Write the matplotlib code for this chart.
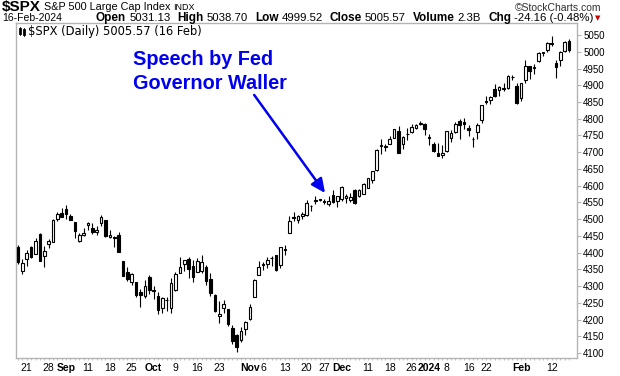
import matplotlib
matplotlib.use("Agg")
import matplotlib.pyplot as plt
from matplotlib.lines import Line2D
import numpy as np

ANCHO, ALTO = 620, 376

# Sesiones diarias del $SPX (17-ago-2023 .. 16-feb-2024)
fechas = [
    "2023-08-17", "2023-08-18", "2023-08-21", "2023-08-22", "2023-08-23", "2023-08-24", "2023-08-25",
    "2023-08-28", "2023-08-29", "2023-08-30", "2023-08-31",
    "2023-09-01", "2023-09-05", "2023-09-06", "2023-09-07", "2023-09-08", "2023-09-11", "2023-09-12",
    "2023-09-13", "2023-09-14", "2023-09-15", "2023-09-18", "2023-09-19", "2023-09-20", "2023-09-21",
    "2023-09-22", "2023-09-25", "2023-09-26", "2023-09-27", "2023-09-28", "2023-09-29",
    "2023-10-02", "2023-10-03", "2023-10-04", "2023-10-05", "2023-10-06", "2023-10-09", "2023-10-10",
    "2023-10-11", "2023-10-12", "2023-10-13", "2023-10-16", "2023-10-17", "2023-10-18", "2023-10-19",
    "2023-10-20", "2023-10-23", "2023-10-24", "2023-10-25", "2023-10-26", "2023-10-27", "2023-10-30",
    "2023-10-31",
    "2023-11-01", "2023-11-02", "2023-11-03", "2023-11-06", "2023-11-07", "2023-11-08", "2023-11-09",
    "2023-11-10", "2023-11-13", "2023-11-14", "2023-11-15", "2023-11-16", "2023-11-17", "2023-11-20",
    "2023-11-21", "2023-11-22", "2023-11-24", "2023-11-27", "2023-11-28", "2023-11-29", "2023-11-30",
    "2023-12-01", "2023-12-04", "2023-12-05", "2023-12-06", "2023-12-07", "2023-12-08", "2023-12-11",
    "2023-12-12", "2023-12-13", "2023-12-14", "2023-12-15", "2023-12-18", "2023-12-19", "2023-12-20",
    "2023-12-21", "2023-12-22", "2023-12-26", "2023-12-27", "2023-12-28", "2023-12-29",
    "2024-01-02", "2024-01-03", "2024-01-04", "2024-01-05", "2024-01-08", "2024-01-09", "2024-01-10",
    "2024-01-11", "2024-01-12", "2024-01-16", "2024-01-17", "2024-01-18", "2024-01-19", "2024-01-22",
    "2024-01-23", "2024-01-24", "2024-01-25", "2024-01-26", "2024-01-29", "2024-01-30", "2024-01-31",
    "2024-02-01", "2024-02-02", "2024-02-05", "2024-02-06", "2024-02-07", "2024-02-08", "2024-02-09",
    "2024-02-12", "2024-02-13", "2024-02-14", "2024-02-15", "2024-02-16",
]

aperturas = [
    4416.32, 4344.88, 4380.28, 4415.33, 4396.44, 4455.16, 4389.38, 4426.03, 4432.75, 4500.34, 4517.01,
    4530.60, 4510.06, 4490.35, 4434.55, 4451.30, 4480.98, 4473.27, 4462.65, 4487.78, 4497.98,
    4445.13, 4445.41, 4452.81, 4374.36, 4341.74, 4310.62, 4312.88, 4282.63, 4269.65, 4328.18,
    4284.52, 4269.75, 4233.83, 4259.31, 4234.79, 4289.02, 4339.75, 4366.59, 4380.94, 4360.49,
    4342.37, 4345.23, 4357.35, 4321.36, 4273.85, 4210.40, 4235.79, 4232.42, 4175.99, 4152.93,
    4139.39, 4171.33,
    4201.27, 4268.26, 4334.23, 4364.27, 4366.21, 4384.37, 4391.41, 4364.15, 4406.66, 4458.97,
    4505.30, 4497.08, 4509.55, 4511.70, 4538.77, 4553.04, 4555.84, 4554.86, 4545.55, 4571.84, 4554.87,
    4559.43, 4564.37, 4557.25, 4586.23, 4568.84, 4576.20, 4593.39, 4618.30, 4646.20, 4721.04,
    4714.23, 4725.58, 4743.72, 4764.73, 4724.29, 4753.92, 4758.86, 4773.45, 4786.44, 4782.88,
    4745.20, 4725.07, 4697.42, 4690.57, 4703.70, 4741.93, 4759.94, 4792.13, 4791.18, 4772.35,
    4739.13, 4760.10, 4796.28, 4853.42, 4856.80, 4888.56, 4886.66, 4888.91, 4892.95, 4925.89, 4899.19,
    4861.11, 4916.06, 4957.19, 4950.16, 4973.05, 4995.16, 5004.17, 5026.83, 4967.94, 4976.44,
    5003.14, 5031.13,
]

maximos = [
    4421.17, 4381.82, 4407.55, 4418.59, 4443.18, 4458.30, 4418.46, 4439.56, 4500.14, 4521.65, 4532.26,
    4541.25, 4514.29, 4490.35, 4457.81, 4473.53, 4490.77, 4487.11, 4479.39, 4511.99, 4497.98,
    4466.36, 4449.85, 4461.03, 4375.70, 4357.40, 4338.51, 4313.01, 4292.07, 4317.27, 4333.15,
    4300.58, 4281.15, 4268.50, 4267.13, 4324.10, 4341.73, 4385.46, 4378.64, 4385.85, 4377.10,
    4383.33, 4393.57, 4364.20, 4339.54, 4276.56, 4255.84, 4259.38, 4232.42, 4183.60, 4156.70,
    4177.47, 4195.55,
    4245.64, 4319.72, 4373.62, 4372.21, 4386.26, 4391.20, 4393.40, 4418.03, 4421.76, 4508.67,
    4521.17, 4511.99, 4520.12, 4557.11, 4542.14, 4568.43, 4560.31, 4560.52, 4568.14, 4587.64, 4569.89,
    4599.39, 4574.06, 4578.56, 4590.74, 4590.92, 4609.23, 4623.18, 4643.93, 4709.69, 4738.57,
    4725.53, 4749.52, 4768.69, 4778.01, 4748.71, 4772.94, 4784.72, 4785.39, 4793.30, 4788.43,
    4754.33, 4729.29, 4726.78, 4721.49, 4764.54, 4765.47, 4790.80, 4798.50, 4802.40, 4782.34,
    4744.23, 4785.79, 4842.07, 4868.41, 4866.48, 4903.68, 4898.15, 4906.69, 4929.31, 4931.09, 4906.75,
    4906.97, 4975.29, 4957.19, 4963.13, 4999.89, 5000.40, 5030.06, 5048.39, 4975.67, 5002.52,
    5032.72, 5038.70,
]

minimos = [
    4364.83, 4335.31, 4360.30, 4382.77, 4396.44, 4375.55, 4356.29, 4414.98, 4431.68, 4493.59, 4507.39,
    4501.35, 4496.01, 4442.38, 4430.46, 4448.38, 4467.89, 4456.83, 4453.52, 4478.69, 4447.21,
    4442.11, 4416.61, 4401.38, 4329.17, 4316.49, 4302.70, 4265.98, 4238.63, 4264.38, 4274.86,
    4260.21, 4216.45, 4220.48, 4225.91, 4219.55, 4283.79, 4339.64, 4345.34, 4325.43, 4311.97,
    4342.37, 4337.54, 4303.84, 4269.69, 4223.03, 4189.22, 4219.43, 4181.42, 4127.90, 4103.78,
    4132.94, 4153.12,
    4197.74, 4268.26, 4334.23, 4347.53, 4355.41, 4359.76, 4343.94, 4353.34, 4393.82, 4458.97,
    4495.31, 4487.83, 4499.66, 4510.36, 4525.51, 4545.05, 4552.80, 4546.32, 4540.51, 4547.15, 4537.24,
    4554.71, 4546.72, 4551.68, 4546.50, 4565.22, 4574.06, 4593.39, 4608.09, 4643.23, 4694.34,
    4704.69, 4725.58, 4743.72, 4697.82, 4708.35, 4736.77, 4758.45, 4768.90, 4780.98, 4751.99,
    4722.67, 4699.71, 4687.53, 4682.11, 4699.82, 4730.35, 4756.20, 4739.58, 4768.98, 4747.12,
    4714.82, 4740.57, 4785.87, 4844.05, 4844.37, 4865.94, 4869.34, 4881.47, 4887.40, 4916.27, 4845.15,
    4853.52, 4907.99, 4918.09, 4934.63, 4969.05, 4987.09, 5000.34, 5016.83, 4920.31, 4956.45,
    4999.44, 4999.52,
]

cierres = [
    4370.36, 4369.71, 4399.77, 4387.55, 4436.01, 4376.31, 4405.71, 4433.31, 4497.63, 4514.87, 4507.66,
    4515.77, 4496.83, 4465.48, 4451.14, 4457.49, 4487.46, 4461.90, 4467.44, 4505.10, 4450.32,
    4453.53, 4443.95, 4402.20, 4330.00, 4320.06, 4337.44, 4273.53, 4274.51, 4299.70, 4288.05,
    4288.39, 4229.45, 4263.75, 4258.19, 4308.50, 4335.66, 4358.24, 4376.95, 4349.61, 4327.78,
    4373.63, 4373.20, 4314.60, 4278.00, 4224.16, 4217.04, 4247.68, 4186.77, 4137.23, 4117.37,
    4166.82, 4193.80,
    4237.86, 4317.78, 4358.34, 4365.98, 4378.38, 4382.78, 4347.35, 4415.24, 4411.55, 4495.70,
    4502.88, 4508.24, 4514.02, 4547.38, 4538.19, 4556.62, 4559.34, 4550.43, 4554.89, 4550.58, 4567.80,
    4594.63, 4569.78, 4567.18, 4549.34, 4585.59, 4604.37, 4622.44, 4643.70, 4707.09, 4719.55,
    4719.19, 4740.56, 4768.37, 4698.35, 4746.75, 4754.63, 4774.75, 4781.58, 4783.35, 4769.83,
    4742.83, 4704.81, 4688.68, 4697.24, 4763.54, 4756.50, 4783.45, 4780.24, 4783.83, 4765.98,
    4739.21, 4780.94, 4839.81, 4850.43, 4864.60, 4868.55, 4894.16, 4890.97, 4927.93, 4924.97, 4845.65,
    4906.19, 4958.61, 4942.81, 4954.23, 4995.06, 4997.91, 5026.61, 5021.84, 4953.17, 5000.62,
    5029.73, 5005.57,
]

# Etiquetas del eje X (fecha -> texto)
etiquetas_fecha = ["2023-08-21", "2023-08-28", "2023-09-01", "2023-09-11", "2023-09-18", "2023-09-25",
                   "2023-10-02", "2023-10-09", "2023-10-16", "2023-10-23", "2023-11-01", "2023-11-06",
                   "2023-11-13", "2023-11-20", "2023-11-27", "2023-12-01", "2023-12-11", "2023-12-18",
                   "2023-12-26", "2024-01-02", "2024-01-08", "2024-01-16", "2024-01-22", "2024-02-01",
                   "2024-02-12"]
etiquetas_texto = ["21", "28", "Sep", "11", "18", "25", "Oct", "9", "16", "23", "Nov", "6", "13", "20",
                   "27", "Dec", "11", "18", "26", "2024", "8", "16", "22", "Feb", "12"]

niveles_y = list(range(4100, 5051, 50))

fecha_discurso = "2023-11-28"
texto_discurso = "Speech by Fed\nGovernor Waller"

GRIS = "#b4b4b4"
AZUL = "#0000ee"


def px(x, y):
    return x / ANCHO, 1 - y / ALTO


fig = plt.figure(figsize=(ANCHO / 100, ALTO / 100), dpi=100)
fig.patch.set_facecolor("white")
ax = fig.add_axes([16 / ANCHO, 18 / ALTO, 561 / ANCHO, 335 / ALTO])

o = np.array(aperturas)
h = np.array(maximos)
l = np.array(minimos)
c = np.array(cierres)
x = np.arange(len(c))
sube = c >= o
cuerpo = np.maximum(np.abs(c - o), 0.6)
base = np.minimum(o, c)

# Mechas y cuerpos de las velas
ax.vlines(x, l, h, color="black", linewidth=0.8, zorder=2)
ax.bar(x[sube], cuerpo[sube], bottom=base[sube], width=0.6, color="white",
       edgecolor="black", linewidth=0.8, zorder=3)
ax.bar(x[~sube], cuerpo[~sube], bottom=base[~sube], width=0.6, color="black",
       edgecolor="black", linewidth=0.8, zorder=3)

ax.set_xlim(-0.46, 127.8)
ax.set_ylim(4085, 5086)

for lado in ["left", "right", "top", "bottom"]:
    ax.spines[lado].set_color(GRIS)
    ax.spines[lado].set_linewidth(1)

# Eje Y a la derecha
ax.yaxis.tick_right()
ax.set_yticks(niveles_y)
ax.set_yticklabels([str(v) for v in niveles_y], fontsize=7, family="Liberation Sans")
ax.tick_params(axis="y", length=3, width=0.8, color=GRIS, pad=1.5)

# Eje X con meses en negrita
pos = [fechas.index(f) for f in etiquetas_fecha]
ax.set_xticks(pos)
ax.set_xticklabels(etiquetas_texto, fontsize=7.5, family="Liberation Sans")
for t in ax.get_xticklabels():
    if not t.get_text().isdigit() or t.get_text() == "2024":
        t.set_fontweight("bold")
ax.set_xticks(x, minor=True)
ax.tick_params(axis="x", which="both", length=1.5, width=0.6, color=GRIS, pad=2)

# Anotacion del discurso
i_d = fechas.index(fecha_discurso)
ax.text(0.209, 0.918, texto_discurso, transform=ax.transAxes, color=AZUL, fontsize=14.3,
        fontweight="bold", family="Liberation Sans", va="top", ha="left", linespacing=1.3)
ax.annotate("", xy=(i_d - 0.8, 4578), xytext=(i_d - 17, 4871),
            arrowprops=dict(arrowstyle="-|>,head_length=0.6,head_width=0.28", color=AZUL,
                            lw=1.8, mutation_scale=14, shrinkA=0, shrinkB=0))

# Cabecera
rend = fig.canvas.get_renderer()


def linea(piezas, x0, y0):
    for texto, negrita, tam, color, hueco in piezas:
        t = fig.text(*px(x0, y0), texto, fontsize=tam, fontweight="bold" if negrita else "normal",
                     color=color, va="center", ha="left", family="Liberation Sans")
        x0 = t.get_window_extent(rend).x1 + hueco
    return x0


linea([("$SPX", True, 11, "black", 3),
       ("S&P 500 Large Cap Index", False, 7.8, "black", 3),
       ("INDX", False, 6.5, "black", 0)], 2, 7)

fig.text(*px(601, 8), "\u00a9StockCharts.com", fontsize=7.5, ha="right", va="center",
         family="Liberation Sans", color="#303030")

linea([("16-Feb-2024", False, 7.5, "black", 0)], 2, 18)
fin = linea([("Open", True, 8.5, "black", 3), ("5031.13", False, 8.2, "black", 7),
             ("High", True, 8.5, "black", 3), ("5038.70", False, 8.2, "black", 7),
             ("Low", True, 8.5, "black", 3), ("4999.52", False, 8.2, "black", 7),
             ("Close", True, 8.5, "black", 3), ("5005.57", False, 8.2, "black", 7),
             ("Volume", True, 8.5, "black", 3), ("2.3B", False, 8.2, "black", 7),
             ("Chg", True, 8.5, "black", 3), ("-24.16 (-0.48%)", False, 8.2, "black", 1)], 96, 18)
fig.text(*px(fin, 18.5), "\u25bc", fontsize=5, color="#cc0000", ha="left", va="center",
         family="DejaVu Sans")

# Leyenda dentro del grafico con icono de velas
for xi, y1, y2, yb1, yb2 in [(20, 27, 35, 29, 33), (24, 28, 36, 30, 34)]:
    fig.add_artist(Line2D([xi / ANCHO] * 2, [1 - y1 / ALTO, 1 - y2 / ALTO], color="black", lw=0.6))
    fig.add_artist(Line2D([xi / ANCHO] * 2, [1 - yb1 / ALTO, 1 - yb2 / ALTO], color="black", lw=2))
fig.text(*px(28, 31), "$SPX (Daily) 5005.57 (16 Feb)", fontsize=8.3, ha="left", va="center",
         family="DejaVu Sans")

fig.savefig("out.png", dpi=100)
